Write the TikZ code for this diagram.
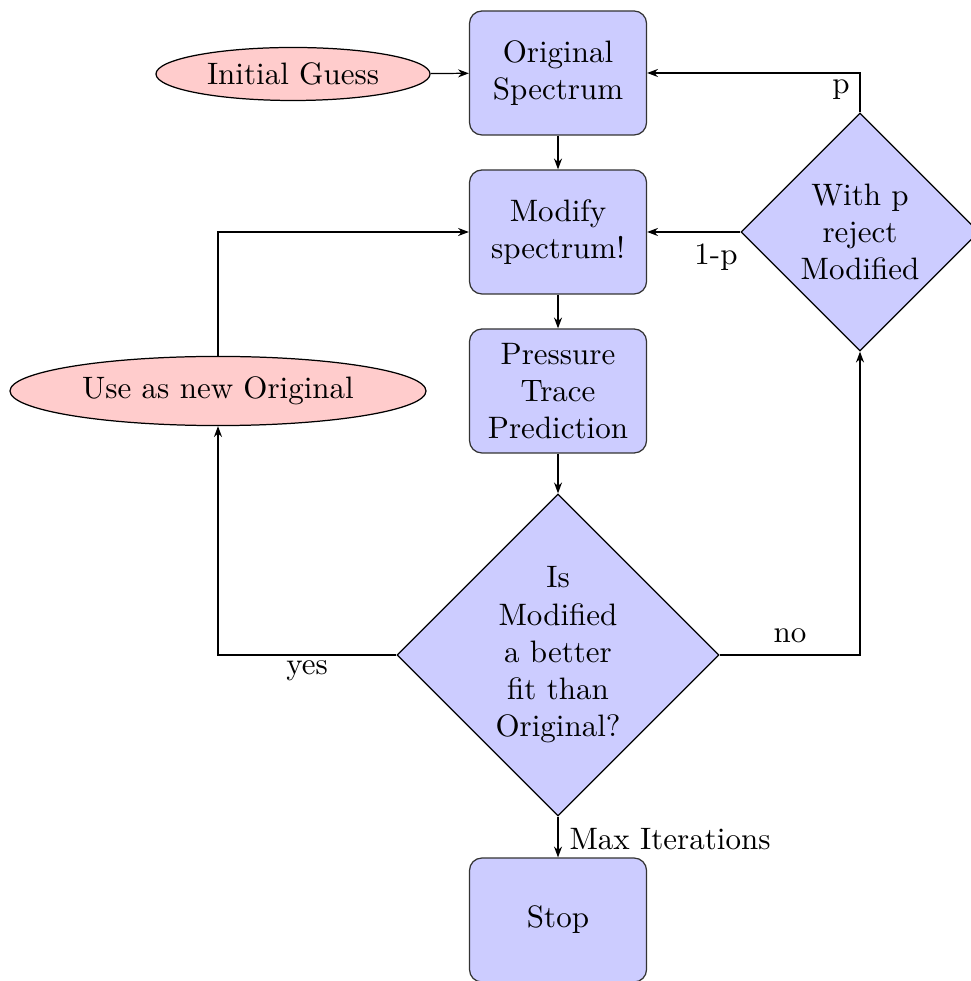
\documentclass[tikz,border=0pt]{standalone}
\usetikzlibrary{shapes.geometric,arrows.meta}
\begin{document}
\begin{tikzpicture}[x=0.32258pt,y=-0.32258pt,
  box/.style={draw=black!80, fill=blue!20, rounded corners=4pt, minimum width=57.1pt, minimum height=40pt, align=center, inner sep=2pt},
  dec/.style={draw=black, fill=blue!20, diamond, aspect=1, inner sep=0pt, align=center},
  ell/.style={draw=black, fill=red!20, ellipse, inner sep=0pt, align=center},
  arr/.style={-{Stealth[length=3.5pt,width=2.6pt]}, line width=0.4pt},
  lbl/.style={inner sep=0pt}]
\useasboundingbox (0,0) rectangle (970,981);
\node[box] (orig) at (558,73) {Original\\Spectrum};
\node[box] (mod) at (558,232) {Modify\\spectrum!};
\node[box] (pred) at (558,391) {Pressure\\Trace\\Prediction};
\node[dec, minimum width=103.9pt, minimum height=103.9pt] (better) at (558,655) {Is\\Modified\\a better\\fit than\\Original?};
\node[box] (stop) at (558,920) {Stop};
\node[ell, minimum width=88.4pt, minimum height=17.1pt] (init) at (293,74) {Initial Guess};
\node[ell, minimum width=134.2pt, minimum height=22.3pt] (use) at (218,391) {Use as new Original};
\node[dec, minimum width=76.8pt, minimum height=76.8pt] (rej) at (860,232) {With p\\reject\\Modified};
\coordinate (c1) at (218,655);
\coordinate (c2) at (218,232);
\coordinate (c3) at (860,655);
\coordinate (c4) at (860,73);
\draw[arr] (init) -- (orig);
\draw[arr] (orig) -- (mod);
\draw[arr] (mod) -- (pred);
\draw[arr] (pred) -- (better);
\draw[arr] (better) -- (stop);
\draw[arr] (better.west) -- (c1) -- (use.south);
\draw[arr] (use.north) -- (c2) -- (mod.west);
\draw[arr] (better.east) -- (c3) -- (rej.south);
\draw[arr] (rej.north) -- (c4) -- (orig.east);
\draw[arr] (rej.west) -- (mod.east);
\node[lbl] (lp) at (841,90) {p};
\node[lbl] (l1p) at (716,257) {1-p};
\node[lbl] (lyes) at (307,671) {yes};
\node[lbl] (lno) at (790,636) {no};
\node[lbl] (lmax) at (670,839) {Max Iterations};
\end{tikzpicture}
\end{document}
